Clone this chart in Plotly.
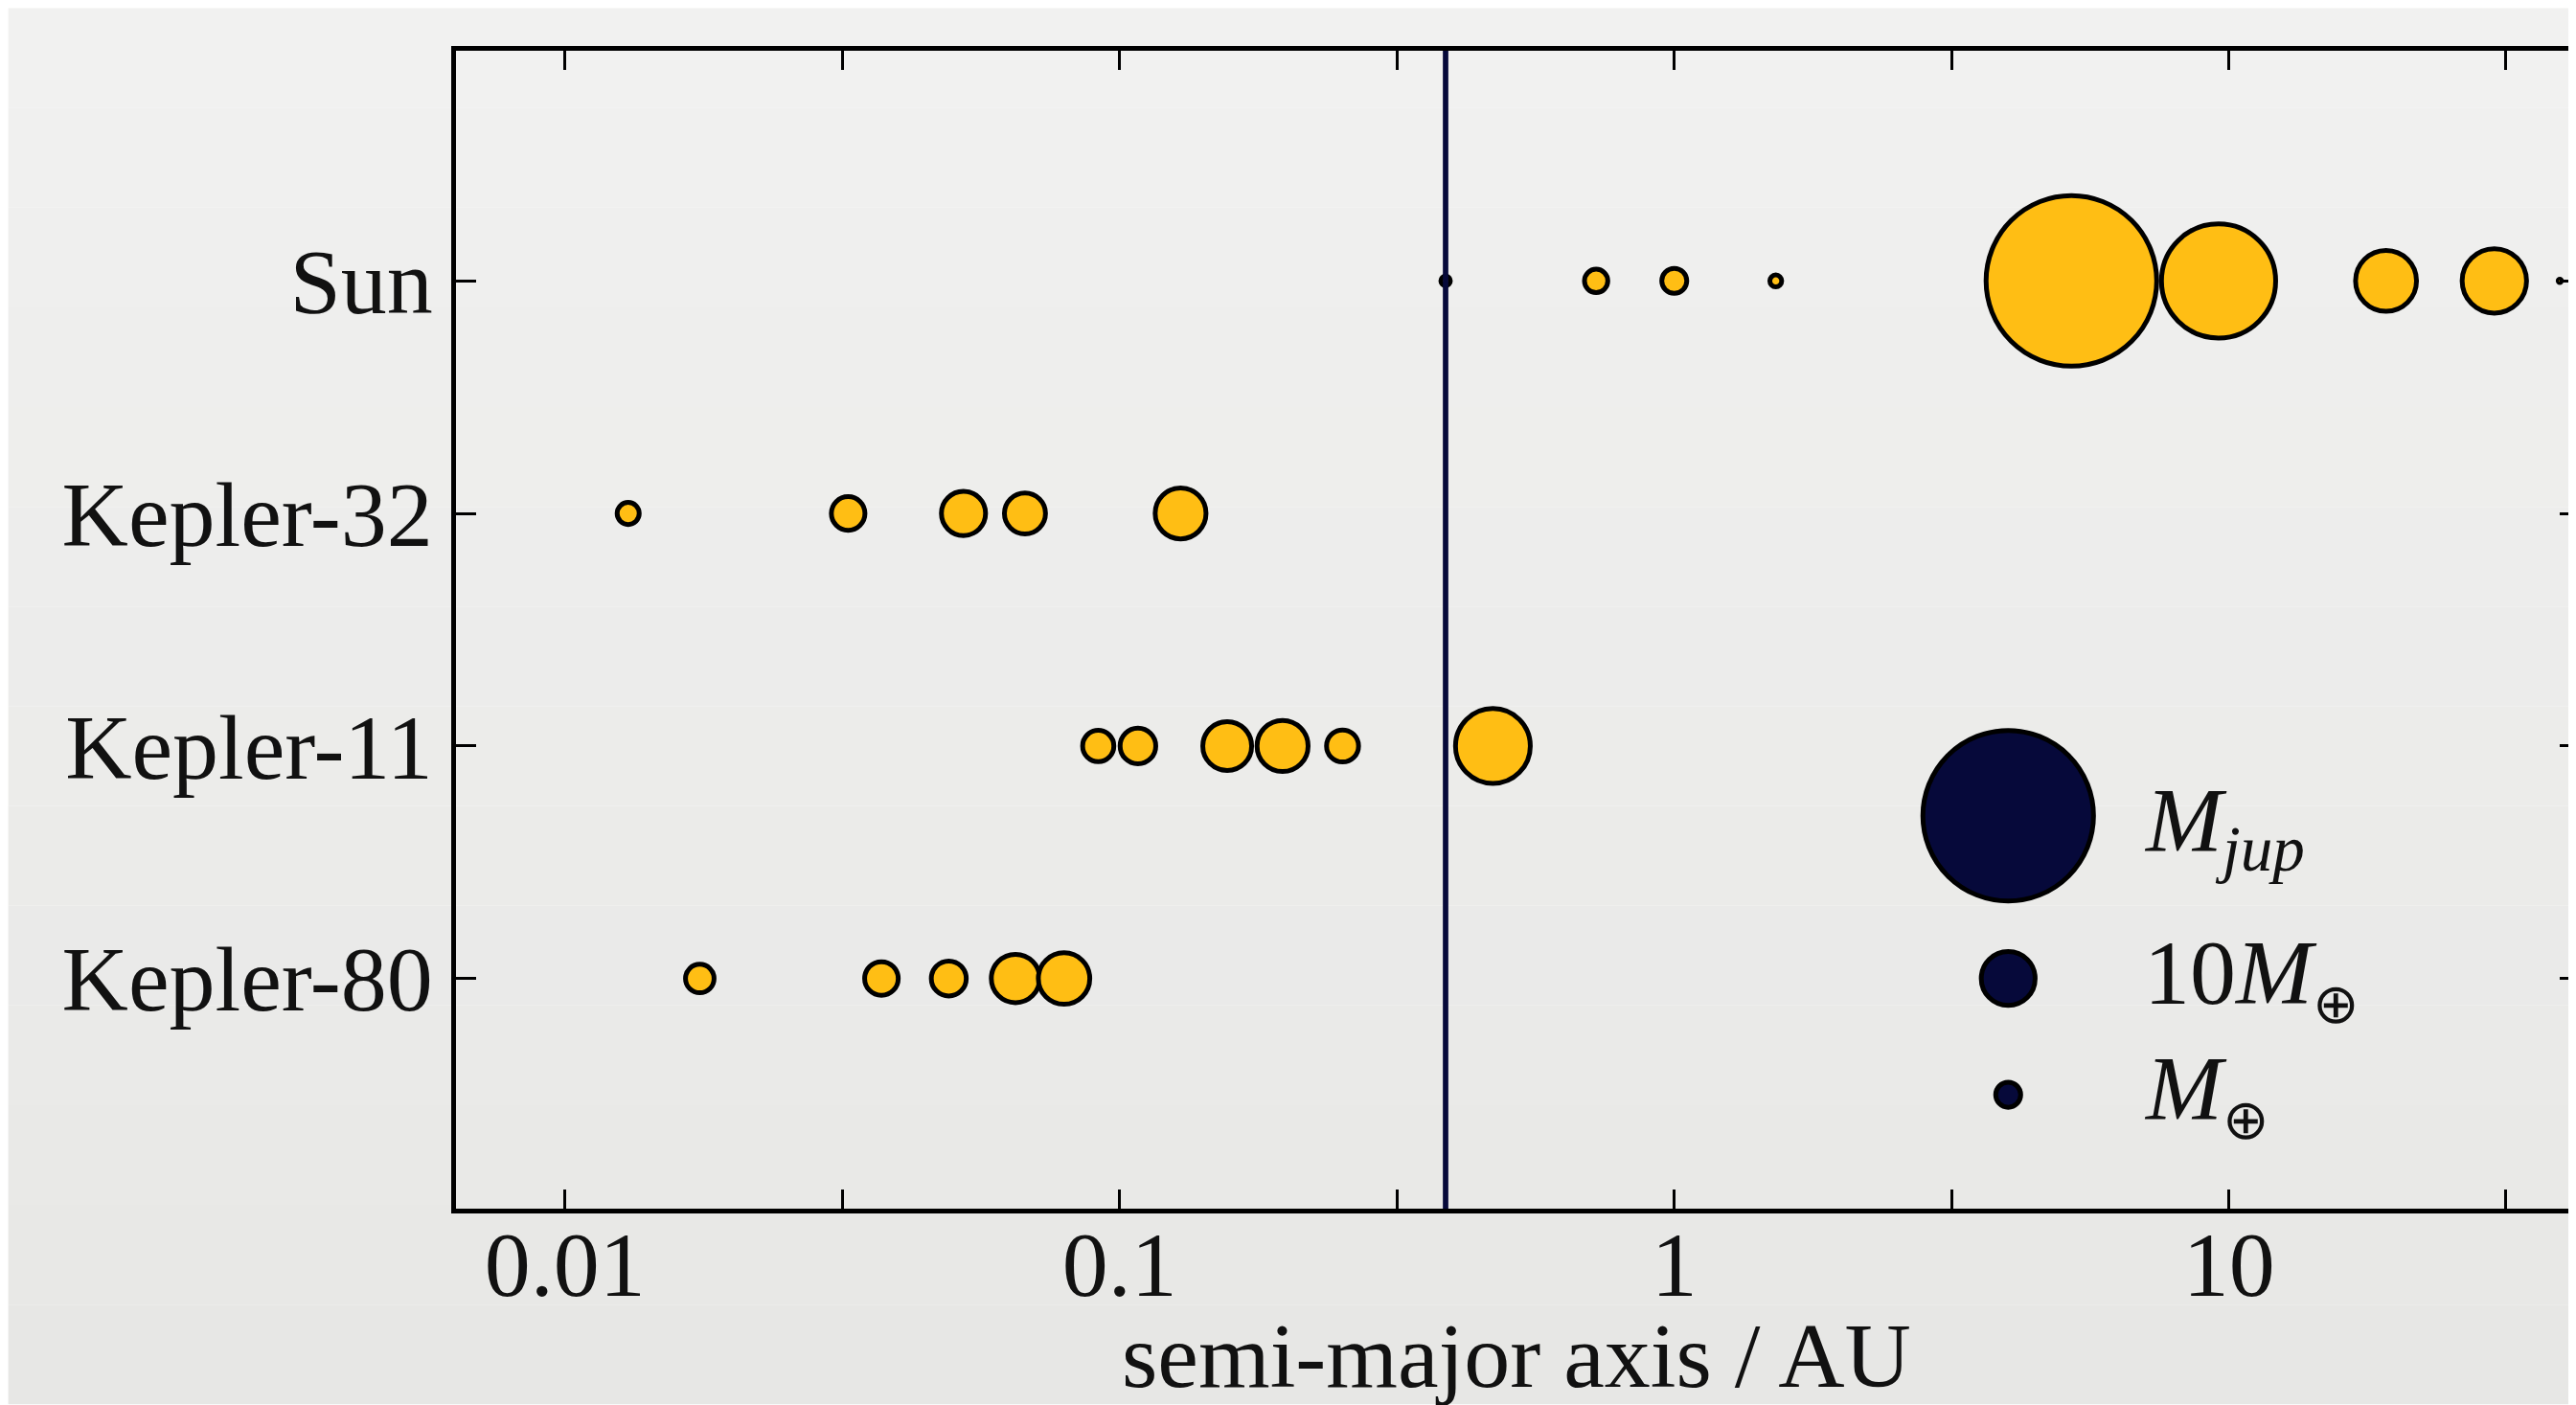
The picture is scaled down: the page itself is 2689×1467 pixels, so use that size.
import math
import plotly.graph_objects as go

# ---------------- data ----------------
systems = ["Sun", "Kepler-32", "Kepler-11", "Kepler-80"]

# semi-major axis (AU) and mass (Earth masses) of each planet
sun_a = [0.387, 0.723, 1.0, 1.524, 5.20, 9.58, 19.2, 30.1, 39.5]
sun_m = [0.055, 0.815, 1.0, 0.107, 317.8, 95.2, 14.5, 17.1, 0.0022]
k32_a = [0.0130, 0.0324, 0.0523, 0.0675, 0.1288]
k32_m = [0.69, 2.43, 5.51, 4.44, 8.42]
k11_a = [0.0915, 0.1079, 0.1563, 0.1967, 0.2523, 0.471]
k11_m = [1.95, 2.90, 7.46, 8.52, 2.10, 26.8]
k80_a = [0.0175, 0.0372, 0.0492, 0.0649, 0.0794]
k80_m = [1.49, 2.43, 2.73, 7.24, 8.71]

# size legend
OPLUS = "<span style=\"font-family:'DejaVu Sans';font-size:58px;font-weight:200\">⊕</span>"
legend_labels = ["<i>M</i><sub><i>jup</i></sub>",
                 "10<i>M</i><sub>" + OPLUS + "</sub>",
                 "<i>M</i><sub>" + OPLUS + "</sub>"]
legend_m = [317.8, 10.0, 1.0]
legend_row = [2.3, 3.0, 3.5]
legend_a = 4.0

mercury_orbit = 0.387

x_tickvals = [0.01, 0.1, 1, 10]
x_ticktext = ["0.01", "0.1", "1", "10"]
x_minor_tickvals = [0.0316, 0.316, 3.16, 31.6]
x_title = "semi-major axis / AU"

# ---------------- style ----------------
GOLD = "#FFBE14"
NAVY = "#06093A"
INK = "#111111"
FONT = "Liberation Serif"
FS = 96
SIZE_K = 26.1   # px per (Earth mass)^(1/3)
EDGE = 5
LEG_YSHIFT = [-12, 0, 0]

def msize(masses):
    return [SIZE_K * m ** (1.0 / 3.0) for m in masses]

OFF = 8  # page body margin
W, H = 2689 - OFF, 1467 - OFF
L, R, T, B = 475.5 - OFF, W, 52.5 - OFF, 1262.5 - OFF
X0PIX, DEC = 589.3 - OFF, 579.1   # pixel of 0.01 AU, pixels per decade
ROW0, ROWH = 293.0 - OFF, 243.0   # pixel of first row, pixels per row

xr = [-2 + (L - X0PIX) / DEC, -2 + (R - X0PIX) / DEC]
yr = [(B - ROW0) / ROWH, (T - ROW0) / ROWH]

fig = go.Figure()

rows = [(sun_a, sun_m), (k32_a, k32_m), (k11_a, k11_m), (k80_a, k80_m)]
for i, (a, m) in enumerate(rows):
    fig.add_trace(go.Scatter(
        x=a, y=[i] * len(a), mode="markers",
        marker=dict(size=msize(m), color=GOLD, opacity=1,
                    line=dict(color="black", width=EDGE)),
        showlegend=False, hoverinfo="x"))

fig.add_trace(go.Scatter(
    x=[legend_a] * len(legend_m), y=legend_row, mode="markers",
    marker=dict(size=msize(legend_m), color=NAVY, opacity=1,
                line=dict(color="black", width=EDGE)),
    showlegend=False, hoverinfo="skip"))

# invisible trace for the right-hand tick axis
fig.add_trace(go.Scatter(x=[1], y=[0], yaxis="y2", mode="markers",
                         marker=dict(size=0, opacity=0), showlegend=False, hoverinfo="skip"))

for lab, yv, ys in zip(legend_labels, legend_row, LEG_YSHIFT):
    fig.add_annotation(x=math.log10(legend_a), y=yv, xref="x", yref="y", text=lab,
                       showarrow=False, xanchor="left", yanchor="middle", xshift=140,
                       yshift=ys, font=dict(family=FONT, size=FS, color=INK))

# x-axis title
fig.add_annotation(x=0.5, y=(B - (1416 - OFF)) / (B - T), xref="paper", yref="paper",
                   text=x_title, showarrow=False, xanchor="center", yanchor="middle",
                   font=dict(family=FONT, size=FS, color=INK))

# vertical line at Mercury's orbit
fig.add_shape(type="line", x0=mercury_orbit, x1=mercury_orbit, xref="x", yref="paper",
              y0=0, y1=1, line=dict(color=NAVY, width=5.7), layer="above")

# background gradient
nb = 14
top_c = (241, 241, 240)
bot_c = (231, 231, 229)
py0 = (B - H) / (B - T)
py1 = B / (B - T)
px0 = -L / (R - L)
for k in range(nb):
    f = (k + 0.5) / nb
    c = tuple(round(top_c[j] + (bot_c[j] - top_c[j]) * f) for j in range(3))
    ya = py1 - (py1 - py0) * k / nb
    yb = py1 - (py1 - py0) * (k + 1) / nb
    fig.add_shape(type="rect", xref="paper", yref="paper", x0=px0, x1=1.0,
                  y0=yb, y1=ya, line=dict(width=0), fillcolor="rgb(%d,%d,%d)" % c,
                  layer="below")

fig.update_layout(
    width=W, height=H,
    margin=dict(l=L, r=W - R, t=T, b=H - B, pad=0, autoexpand=False),
    paper_bgcolor="rgba(0,0,0,0)", plot_bgcolor="rgba(0,0,0,0)",
    font=dict(family=FONT, size=FS, color=INK),
    xaxis=dict(type="log", range=xr, tickmode="array", automargin=False,
               tickvals=x_tickvals, ticktext=x_ticktext,
               ticks="inside", ticklen=20, tickwidth=2.5, tickcolor="black",
               minor=dict(tickmode="array", tickvals=x_minor_tickvals, ticks="inside",
                          ticklen=20, tickwidth=2.5, tickcolor="black", showgrid=False),
               ticklabelstandoff=-29,
               showline=True, linewidth=5, linecolor="black", mirror="ticks",
               showgrid=False, zeroline=False,
               tickfont=dict(family=FONT, size=FS, color=INK)),
    yaxis=dict(range=yr, tickvals=list(range(len(systems))), ticktext=systems,
               automargin=False,
               ticks="inside", ticklen=21, tickwidth=2.5, tickcolor="black",
               showline=True, linewidth=5, linecolor="black", mirror=False,
               showgrid=False, zeroline=False,
               tickfont=dict(family=FONT, size=FS, color=INK)),
    yaxis2=dict(overlaying="y", side="right", range=yr, automargin=False,
                tickvals=list(range(len(systems))), showticklabels=False,
                ticks="inside", ticklen=17, tickwidth=2.5, tickcolor="black",
                showline=False, showgrid=False, zeroline=False),
)

fig.write_html("out.html")
